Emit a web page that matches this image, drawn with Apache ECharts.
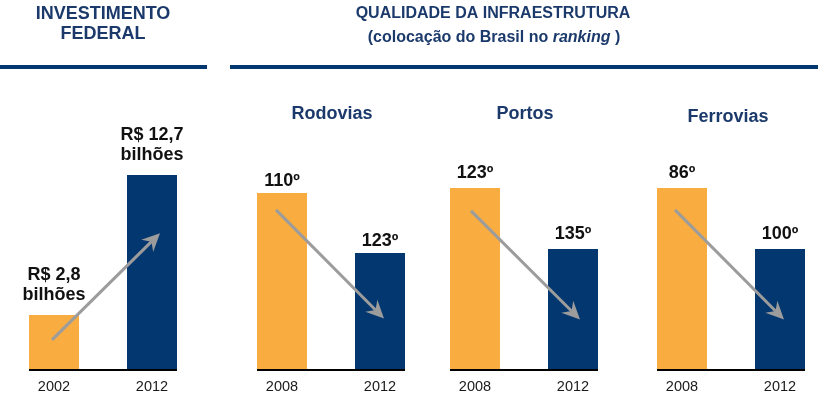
<!DOCTYPE html>
<html><head><meta charset="utf-8">
<script src="https://cdn.jsdelivr.net/npm/echarts@6/dist/echarts.min.js"></script>
<style>html,body{margin:0;padding:0;background:#fff}#c{width:818px;height:408px}</style>
</head><body><div id="c"></div>
<script>
// ---- data ----
const investYears = ['2002', '2012'];
const investValues = [2.8, 12.7];               // R$ bilhões
const investBarHeights = [27.8, 100];           // visual bar height index

const rankYears = ['2008', '2012'];
const rodoviasRank = [110, 123];
const portosRank = [123, 135];
const ferroviasRank = [86, 100];
const rodoviasBarHeights = [90.7, 59.8];
const portosBarHeights = [93.3, 61.9];
const ferroviasBarHeights = [93.3, 61.9];

// trend arrows: [start height on 1st bar, end height on 2nd bar]
const investArrow = [15, 70];
const rodoviasArrow = [82, 26];
const portosArrow = [81.5, 25.5];
const ferroviasArrow = [82, 25.5];

const headerLeft = 'INVESTIMENTO\nFEDERAL';
const headerRight = 'QUALIDADE DA INFRAESTRUTURA';
const panelTitles = ['Rodovias', 'Portos', 'Ferrovias'];

// ---- styling ----
const FONT = "'Liberation Sans', Arial, sans-serif";
const ORANGE = '#F9AD41';
const NAVY = '#03376F';
const TITLE = '#1B3A6B';
const ARROW = '#9C9C9C';

const panels = [
  { years: investYears, heights: investBarHeights, arrow: investArrow, left: 54, dist: 10, ax: [-2, 8],
    label: i => 'R$ ' + String(investValues[i]).replace('.', ',') + '\nbilhões' },
  { years: rankYears, heights: rodoviasBarHeights, arrow: rodoviasArrow, left: 282, dist: 2, ax: [-6, 4],
    label: i => rodoviasRank[i] + 'º' },
  { years: rankYears, heights: portosBarHeights, arrow: portosArrow, left: 475, dist: 5, ax: [-4, 7],
    label: i => portosRank[i] + 'º' },
  { years: rankYears, heights: ferroviasBarHeights, arrow: ferroviasArrow, left: 682, dist: 5, ax: [-7, 4],
    label: i => ferroviasRank[i] + 'º' }
];

const chart = echarts.init(document.getElementById('c'), null, { renderer: 'canvas' });

const option = {
  animation: false,
  backgroundColor: '#fff',
  grid: panels.map(p => ({ left: p.left, width: 98, top: 175, height: 194 })),
  xAxis: panels.map((p, i) => ({
    type: 'category', gridIndex: i, data: p.years, boundaryGap: false,
    axisLine: { show: false }, axisTick: { show: false }, splitLine: { show: false },
    axisLabel: { color: '#1a1a1a', fontSize: 14.5, fontFamily: FONT, margin: 10 }
  })),
  yAxis: panels.map((p, i) => ({ type: 'value', gridIndex: i, min: 0, max: 100, show: false })),
  series: panels.map((p, i) => ({
    type: 'bar', xAxisIndex: i, yAxisIndex: i, barWidth: 50,
    data: p.heights.map((h, k) => ({ value: h, itemStyle: { color: k === 0 ? ORANGE : NAVY } })),
    label: {
      show: true, position: 'top', distance: p.dist,
      formatter: prm => p.label(prm.dataIndex),
      color: '#111', fontSize: 18, fontWeight: 'bold', fontFamily: FONT, lineHeight: 20
    }
  }))
};
chart.setOption(option);

// ---- decorations ----
const graphic = [
  { type: 'rect', z: 100, shape: { x: 0, y: 65, width: 207, height: 4 }, style: { fill: NAVY } },
  { type: 'rect', z: 100, shape: { x: 230, y: 65, width: 588, height: 4 }, style: { fill: NAVY } },
  { type: 'text', z: 100, x: 103, y: 24, style: { text: headerLeft, align: 'center', verticalAlign: 'middle',
      fill: TITLE, fontSize: 18, fontWeight: 'bold', fontFamily: FONT, lineHeight: 20 } },
  { type: 'text', z: 100, x: 493, y: 14, style: { text: headerRight, align: 'center', verticalAlign: 'middle',
      fill: TITLE, fontSize: 16, fontWeight: 'bold', fontFamily: FONT } },
  { type: 'text', z: 100, x: 494, y: 38, style: {
      text: '{a|(colocação do Brasil no }{b|ranking}{a| )}', align: 'center', verticalAlign: 'middle',
      rich: {
        a: { fill: TITLE, fontSize: 16, fontWeight: 'bold', fontFamily: FONT },
        b: { fill: TITLE, fontSize: 16, fontWeight: 'bold', fontStyle: 'italic', fontFamily: FONT }
      } } }
];
const titleY = [114, 114, 117];
const titleDx = [1, 1, -3];
panelTitles.forEach((t, k) => {
  const gi = k + 1;
  const c0 = chart.convertToPixel({ gridIndex: gi }, [0, 0]);
  const c1 = chart.convertToPixel({ gridIndex: gi }, [1, 0]);
  graphic.push({ type: 'text', z: 100, x: (c0[0] + c1[0]) / 2 + titleDx[k], y: titleY[k], style: {
    text: t, align: 'center', verticalAlign: 'middle', fill: TITLE,
    fontSize: 18, fontWeight: 'bold', fontFamily: FONT } });
});

panels.forEach((p, gi) => {
  const b0 = chart.convertToPixel({ gridIndex: gi }, [0, 0]);
  const b1 = chart.convertToPixel({ gridIndex: gi }, [1, 0]);
  // baseline under the bars
  graphic.push({ type: 'line', z: 100, shape: { x1: b0[0] - 25, y1: b0[1] + 1, x2: b1[0] + 25, y2: b1[1] + 1 },
    style: { stroke: '#000', lineWidth: 2 } });
  // arrow
  const s = chart.convertToPixel({ gridIndex: gi }, [0, p.arrow[0]]);
  const e = chart.convertToPixel({ gridIndex: gi }, [1, p.arrow[1]]);
  const x0 = s[0] + p.ax[0], y0 = s[1], x1 = e[0] + p.ax[1], y1 = e[1];
  const L = Math.hypot(x1 - x0, y1 - y0);
  const dx = (x1 - x0) / L, dy = (y1 - y0) / L;
  const nx = -dy, ny = dx;
  const headLen = 18, half = 8.5, notch = 12;
  graphic.push({ type: 'line', z: 100, shape: { x1: x0, y1: y0, x2: x1 - dx * notch, y2: y1 - dy * notch },
    style: { stroke: ARROW, lineWidth: 3 } });
  graphic.push({ type: 'polygon', z: 100, shape: { points: [
    [x1, y1],
    [x1 - dx * headLen + nx * half, y1 - dy * headLen + ny * half],
    [x1 - dx * notch, y1 - dy * notch],
    [x1 - dx * headLen - nx * half, y1 - dy * headLen - ny * half]
  ] }, style: { fill: ARROW } });
});

chart.setOption({ graphic: graphic });
</script>
</body></html>
